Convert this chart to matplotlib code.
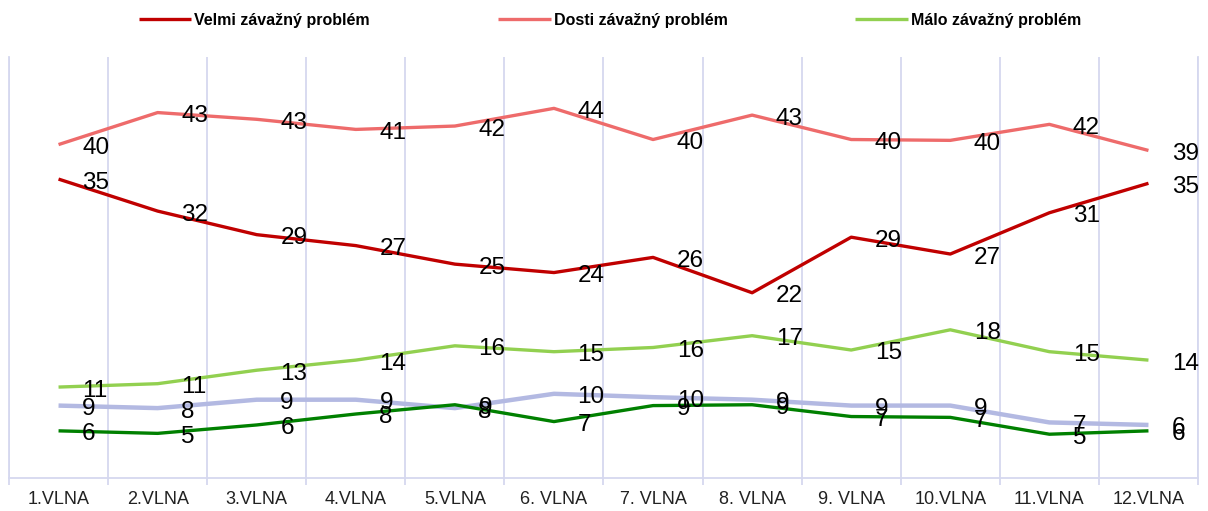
import numpy as np
import matplotlib
matplotlib.use("Agg")
import matplotlib.pyplot as plt

plt.rcParams["font.family"] = ["Liberation Sans", "DejaVu Sans"]

WAVES = ["1.VLNA", "2.VLNA", "3.VLNA", "4.VLNA", "5.VLNA", "6. VLNA",
         "7. VLNA", "8. VLNA", "9. VLNA", "10.VLNA", "11.VLNA", "12.VLNA"]

velmi = [35.5, 31.7, 28.9, 27.6, 25.4, 24.4, 26.2, 22.0, 28.6, 26.6, 31.5, 35.0]
dosti = [39.6, 43.4, 42.6, 41.4, 41.8, 43.9, 40.2, 43.1, 40.2, 40.1, 42.0, 38.9]
malo = [10.8, 11.2, 12.8, 14.0, 15.7, 15.0, 15.5, 16.9, 15.2, 17.6, 15.0, 14.0]
fialova = [8.6, 8.3, 9.3, 9.3, 8.3, 10.0, 9.6, 9.3, 8.6, 8.6, 6.6, 6.3]
zelena = [5.6, 5.3, 6.3, 7.6, 8.7, 6.7, 8.6, 8.7, 7.3, 7.2, 5.2, 5.6]

velmi_lbl = [35, 32, 29, 27, 25, 24, 26, 22, 29, 27, 31, 35]
dosti_lbl = [40, 43, 43, 41, 42, 44, 40, 43, 40, 40, 42, 39]
malo_lbl = [11, 11, 13, 14, 16, 15, 16, 17, 15, 18, 15, 14]
fialova_lbl = [9, 8, 9, 9, 8, 10, 10, 9, 9, 9, 7, 6]
zelena_lbl = [6, 5, 6, 8, 9, 7, 9, 9, 7, 7, 5, 6]

GRID = "#d5d8ef"

fig = plt.figure(figsize=(12.08, 5.11), dpi=100)
ax = fig.add_axes([9 / 1208, 1 - 478 / 511, 1189 / 1208, 421 / 511])
x = np.arange(len(WAVES))

series = [
    (fialova, fialova_lbl, "#b3b9e2", 3.2, "_nolegend_"),
    (zelena, zelena_lbl, "#008000", 2.4, "_nolegend_"),
    (malo, malo_lbl, "#92d050", 2.4, "Málo závažný problém"),
    (dosti, dosti_lbl, "#ee6b6b", 2.4, "Dosti závažný problém"),
    (velmi, velmi_lbl, "#c00000", 2.4, "Velmi závažný problém"),
]
handles = {}
for vals, lbls, col, lw, name in series:
    ln, = ax.plot(x, vals, color=col, lw=lw, solid_capstyle="butt", label=name)
    handles[name] = ln
    # data labels sit to the right of each point, like Excel's "right" position
    for xi, v, t in zip(x, vals, lbls):
        ax.annotate(str(t), (xi, v), xytext=(17, -2.5), textcoords="offset points",
                    ha="left", va="center", fontsize=17.5, color="black", zorder=10)

ax.set_xlim(-0.5, len(WAVES) - 0.5)
ax.set_ylim(0, 50)
ax.set_yticks([])
ax.set_xticks(x)
ax.set_xticklabels(WAVES, fontsize=13, color="#222222")
ax.tick_params(axis="x", which="major", length=0, pad=9)
ax.set_xticks(np.arange(-0.5, len(WAVES)), minor=True)
ax.tick_params(axis="x", which="minor", length=5, color=GRID, width=1.3)
ax.grid(axis="x", which="minor", color=GRID, lw=1.3)
for s in ("left", "right", "bottom"):
    ax.spines[s].set_color(GRID)
    ax.spines[s].set_linewidth(1.3)
ax.spines["top"].set_visible(False)

names = ["Velmi závažný problém", "Dosti závažný problém", "Málo závažný problém"]
fig.legend([handles[n] for n in names], names, loc="center", bbox_to_anchor=(0.505, 1 - 20 / 511),
           ncol=3, frameon=False, prop={"weight": "bold", "size": 11.5},
           handlelength=3.3, handletextpad=0.2, columnspacing=8.0)

fig.savefig("out.png", dpi=100)
